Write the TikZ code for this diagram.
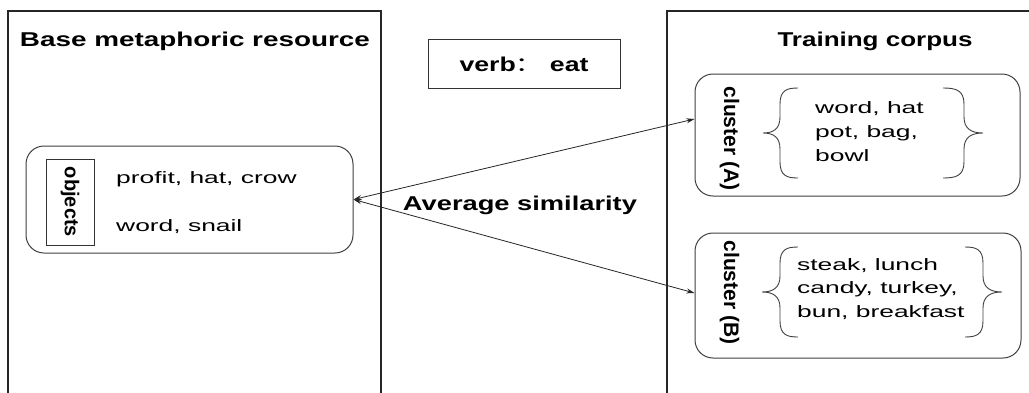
\documentclass[tikz,border=0pt]{standalone}
\usepackage{fontspec}
\setmainfont{Liberation Sans}
\newfontfamily\cjkfont{Noto Sans CJK SC}
\usetikzlibrary{arrows.meta}

% wide body text, and bold text stretched to a given width
\newcommand{\widetext}[1]{\scalebox{1.6}[1]{#1}}
\newcommand{\fitto}[2]{\resizebox{#1}{\height}{#2}}

% curly braces: arm x, stem x, tip x, top y, bottom y
\newcommand{\curlybrace}[5]{%
  \draw[bracepath] (#1,#4) .. controls ({#2+0.4*(#1-#2)},#4) and (#2,#4+2) .. (#2,#4+16)
    -- (#2,{(#4+#5)/2-16}) .. controls (#2,{(#4+#5)/2-4}) and ({#2+0.4*(#3-#2)},{(#4+#5)/2}) .. (#3,{(#4+#5)/2})
    .. controls ({#2+0.4*(#3-#2)},{(#4+#5)/2}) and (#2,{(#4+#5)/2+4}) .. (#2,{(#4+#5)/2+16})
    -- (#2,#5-16) .. controls (#2,#5-2) and ({#2+0.4*(#1-#2)},#5) .. (#1,#5);}

\begin{document}
\begin{tikzpicture}[x=1pt,y=-1pt,
  panel/.style={draw=black!85,line width=1.2pt},
  roundbox/.style={draw=black!75,line width=1pt,rounded corners=18pt,inner sep=0pt},
  plainbox/.style={draw=black!80,line width=1pt,inner sep=0pt},
  heading/.style={font=\fontsize{20}{24}\selectfont\bfseries,inner sep=0pt,anchor=base},
  vlabel/.style={font=\fontsize{21}{24}\selectfont\bfseries,inner sep=0pt,rotate=-90},
  words/.style={font=\fontsize{16.5}{24}\selectfont,inner sep=0pt,anchor=base west},
  bracepath/.style={draw=black!75,line width=0.9pt},
  conn/.style={draw=black!85,line width=0.8pt,
    {Stealth[length=8pt,width=5pt]}-{Stealth[length=8pt,width=5pt]}}]

\useasboundingbox (0,0) rectangle (1029,392);
\clip (0,0) rectangle (1029,392);
\fill[white] (0,0) rectangle (1029,392);

% the two open-bottomed panels
\draw[panel] (8,420) -- (8,11) -- (381,11) -- (381,420);
\draw[panel] (667,420) -- (667,11) -- (1100,11);

\node[heading] (base) at (195,46) {\fitto{350pt}{Base metaphoric resource}};
\node[heading] (corpus) at (875,46) {\fitto{195pt}{Training corpus}};

% verb box
\node[plainbox,minimum width=192pt,minimum height=49pt,text height=16pt,text depth=0pt,
  font=\fontsize{20}{24}\selectfont\bfseries] (verb) at (524,63.5)
  {\fitto{129pt}{verb{\cjkfont\mdseries ：} eat}};

% objects of the base resource
\node[roundbox,minimum width=327pt,minimum height=107pt] (obj) at (189.5,199.5) {};
\node[plainbox,vlabel,font=\fontsize{20}{24}\selectfont\bfseries,
  minimum width=86pt,minimum height=48pt] (objlabel) at (70,202) {objects};
\node[words] (obj1) at (116,183.5) {\widetext{profit, hat, crow}};
\node[words] (obj2) at (116,231.7) {\widetext{word, snail}};

% cluster A
\node[roundbox,minimum width=325pt,minimum height=122pt] (clA) at (857.5,135) {};
\node[vlabel] (clAlabel) at (729.5,138.5) {cluster (A)};
\node[words] (clAtext) at (815,113.3)
  {\widetext{\begin{tabular}[t]{@{}l@{}}word, hat\\pot, bag,\\bowl\end{tabular}}};
\curlybrace{798}{780}{763}{88}{178}
\curlybrace{943}{964}{983}{88}{178}

% cluster B
\node[roundbox,minimum width=326pt,minimum height=125pt] (clB) at (858,295.5) {};
\node[vlabel] (clBlabel) at (729.5,292.5) {cluster (B)};
\node[words,font=\fontsize{16.5}{23.5}\selectfont] (clBtext) at (797,270)
  {\widetext{\begin{tabular}[t]{@{}l@{}}steak, lunch\\candy, turkey,\\bun, breakfast\end{tabular}}};
\curlybrace{798}{780}{762}{247}{337}
\curlybrace{965}{983}{1002}{247}{337}

% similarity links
\draw[conn] (obj.east) -- ([yshift=16pt]clA.west);
\draw[conn] (obj.east) -- ([yshift=2.5pt]clB.west);
\node[heading] (avg) at (520,210) {\fitto{234pt}{Average similarity}};

\end{tikzpicture}
\end{document}
